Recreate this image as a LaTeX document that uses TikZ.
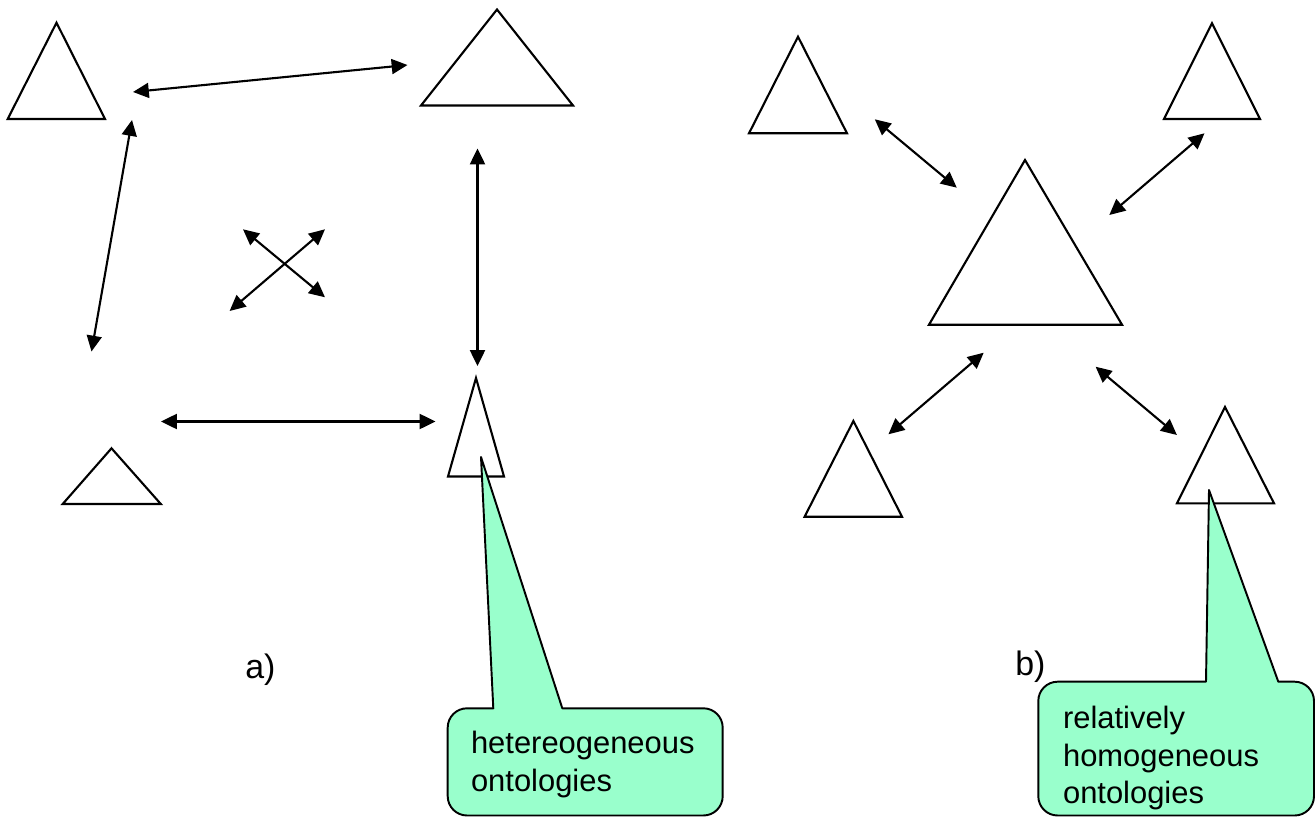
\documentclass[tikz,border=0pt]{standalone}
\usepackage{fontspec}
\setmainfont{Liberation Sans}
\usetikzlibrary{arrows.meta}
\definecolor{calloutgreen}{RGB}{153,255,204}
\tikzset{
  tri/.style={draw=black, line width=1.2pt, line join=miter, fill=white},
  link/.style={draw=black, line width=1.2pt, {Triangle[length=9pt,width=8.5pt]}-{Triangle[length=9pt,width=8.5pt]}},
  callout/.style={draw=black, line width=1.1pt, fill=calloutgreen, line join=round},
  callouttext/.style={font=\fontsize{17.6}{21.9}\selectfont, inner sep=0pt, anchor=base west},
  panellabel/.style={font=\fontsize{19.3}{23}\selectfont, inner sep=0pt, anchor=base west}
}
\begin{document}
\begin{tikzpicture}[x=0.02cm, y=-0.02cm]
\useasboundingbox (0,0) rectangle (1316,818);

% ---------- panel a: triangles ----------
\draw[tri] (56.5,22.7) -- (7.7,119) -- (105,119) -- cycle;
\draw[tri] (497,9.5) -- (421,105.5) -- (573,105.5) -- cycle;
\draw[tri] (111.5,448.3) -- (62.7,504) -- (160.8,504) -- cycle;
\draw[tri] (476,378) -- (448,476.5) -- (504,476.5) -- cycle;

% ---------- panel a: connector end points ----------
\coordinate (a1s) at (133,92);   \coordinate (a1e) at (407.5,65);
\coordinate (a2s) at (132,120);  \coordinate (a2e) at (91.5,351.5);
\coordinate (a3s) at (477.5,148.5); \coordinate (a3e) at (477.5,366);
\coordinate (a4s) at (161,421.5); \coordinate (a4e) at (435.5,421.5);
\coordinate (x1s) at (243,229.3); \coordinate (x1e) at (325,297.3);
\coordinate (x2s) at (229.6,311); \coordinate (x2e) at (325,229.3);

\draw[link] (a1s) -- (a1e);
\draw[link] (a2s) -- (a2e);
\draw[link] (a3s) -- (a3e);
\draw[link] (a4s) -- (a4e);
\draw[link] (x1s) -- (x1e);
\draw[link] (x2s) -- (x2e);

% ---------- panel b: triangles ----------
\draw[tri] (798,36.7) -- (749,133.3) -- (847,133.3) -- cycle;
\draw[tri] (1212,23.3) -- (1164,119) -- (1260,119) -- cycle;
\draw[tri] (1025,160) -- (929,324.7) -- (1122,324.7) -- cycle;
\draw[tri] (853.4,421) -- (804.6,516.7) -- (902,516.7) -- cycle;
\draw[tri] (1225,407) -- (1177,503.3) -- (1274,503.3) -- cycle;

% ---------- panel b: connector end points ----------
\coordinate (b1s) at (874.8,119.3); \coordinate (b1e) at (956.8,187.7);
\coordinate (b2s) at (1204.5,133.3); \coordinate (b2e) at (1109.3,215);
\coordinate (b3s) at (983.7,352.7); \coordinate (b3e) at (888.4,434.3);
\coordinate (b4s) at (1095.6,366.7); \coordinate (b4e) at (1176.9,435);

\draw[link] (b1s) -- (b1e);
\draw[link] (b2s) -- (b2e);
\draw[link] (b3s) -- (b3e);
\draw[link] (b4s) -- (b4e);

% ---------- callouts ----------
\draw[callout] (493.3,708.3) -- (481,457) -- (562.3,708.3)
  {[rounded corners=11pt] -- (722.7,708.3) -- (722.7,815.5) -- (447.7,815.5) -- (447.7,708.3)} -- cycle;
\node[callouttext] (ta1) at (470.7,753) {hetereogeneous};
\node[callouttext] (ta2) at (470.7,791.7) {ontologies};

\draw[callout] (1206,681.7) -- (1209,490) -- (1278.3,681.7)
  {[rounded corners=11pt] -- (1314,681.7) -- (1314,815.5) -- (1038.3,815.5) -- (1038.3,681.7)} -- cycle;
\node[callouttext] (tb1) at (1062.7,728) {relatively};
\node[callouttext] (tb2) at (1062.7,766) {homogeneous};
\node[callouttext] (tb3) at (1062.7,803) {ontologies};

% ---------- panel labels ----------
\node[panellabel] (la) at (245,678) {a)};
\node[panellabel] (lb) at (1015,675) {b)};
\end{tikzpicture}
\end{document}
